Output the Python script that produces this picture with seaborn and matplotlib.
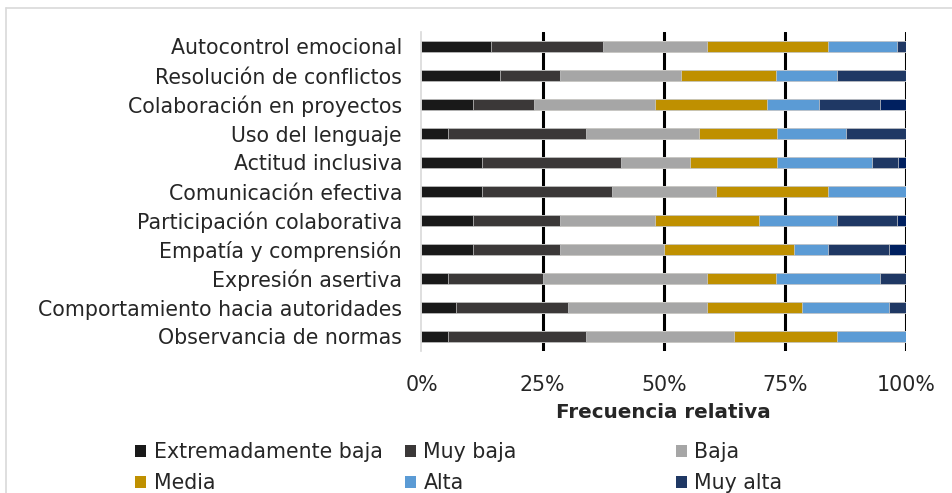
import numpy as np
import pandas as pd
import matplotlib
matplotlib.use("Agg")
import matplotlib.pyplot as plt
from matplotlib.lines import Line2D
from matplotlib.patches import Patch
import seaborn as sns

categories = [
    "Autocontrol emocional",
    "Resolución de conflictos",
    "Colaboración en proyectos",
    "Uso del lenguaje",
    "Actitud inclusiva",
    "Comunicación efectiva",
    "Participación colaborativa",
    "Empatía y comprensión",
    "Expresión asertiva",
    "Comportamiento hacia autoridades",
    "Observancia de normas",
]
levels = ["Extremadamente baja", "Muy baja", "Baja", "Media", "Alta", "Muy alta", "Extremadamente alta"]

ext_baja = [14.3, 16.1, 10.7, 5.4, 12.5, 12.5, 10.7, 10.7, 5.4, 7.1, 5.4]
muy_baja = [23.2, 12.5, 12.5, 28.6, 28.6, 26.8, 17.9, 17.9, 19.6, 23.2, 28.6]
baja = [21.4, 25.0, 25.0, 23.2, 14.3, 21.4, 19.6, 21.4, 33.9, 28.6, 30.4]
media = [25.0, 19.6, 23.2, 16.1, 17.9, 23.2, 21.4, 26.8, 14.3, 19.6, 21.4]
alta = [14.3, 12.5, 10.7, 14.3, 19.6, 16.1, 16.1, 7.1, 21.4, 17.9, 14.3]
muy_alta = [1.8, 14.3, 12.5, 12.5, 5.4, 0.0, 12.5, 12.5, 5.4, 3.6, 0.0]
ext_alta = [0.0, 0.0, 5.4, 0.0, 1.8, 0.0, 1.8, 3.6, 0.0, 0.0, 0.0]

series = [ext_baja, muy_baja, baja, media, alta, muy_alta, ext_alta]
colors = ["#191919", "#3b3838", "#a6a6a6", "#bf9000", "#5b9bd5", "#1f3864", "#002060"]

xticks = [0, 25, 50, 75, 100]
xticklabels = ["0%", "25%", "50%", "75%", "100%"]

sns.set_theme(style="white")
plt.rcParams["font.family"] = ["DejaVu Sans"]
FS = 14.8

fig = plt.figure(figsize=(9.53, 4.93), dpi=100)
ax = fig.add_axes([421.5 / 953, 1 - 351 / 493, (906 - 421.5) / 953, (351 - 32) / 493])

vals = np.array(series)
cum = np.cumsum(vals, axis=0)
df = pd.DataFrame({"cat": categories})
for i in range(len(series) - 1, -1, -1):
    df["v"] = cum[i]
    sns.barplot(data=df, y="cat", x="v", orient="h", color=colors[i], width=0.4,
                saturation=1, ax=ax, edgecolor="#d0d0d0", linewidth=0.5, zorder=2)

ax.set_xlim(0, 100)
ax.set_ylim(len(categories) - 0.5, -0.5)
for x in [25, 50, 75, 100]:
    ax.axvline(x, color="black", lw=2.2, zorder=1)
ax.set_xticks(xticks)
ax.set_xticklabels(xticklabels, fontsize=FS)
ax.tick_params(axis="x", length=0, pad=17)
ax.tick_params(axis="y", length=0, pad=14, labelsize=FS)
ax.set_ylabel("")
ax.set_xlabel("Frecuencia relativa", fontsize=14.3, fontweight="bold", labelpad=6)
for s in ["top", "right", "bottom"]:
    ax.spines[s].set_visible(False)
ax.spines["left"].set_color("#d9d9d9")
ax.spines["left"].set_linewidth(1.2)
ax.set_facecolor("white")

# Legend: three columns at fixed positions
col_x = [135 / 953, 405 / 953, 676 / 953]
for c in range(3):
    handles = []
    for r in range(2):
        idx = r * 3 + c
        handles.append(Patch(facecolor=colors[idx], edgecolor="none", label=levels[idx]))
    fig.legend(handles=handles, loc="upper left", bbox_to_anchor=(col_x[c], 1 - 442 / 493),
               frameon=False, fontsize=FS, handlelength=0.55, handleheight=0.55,
               handletextpad=0.35, labelspacing=0.55, borderpad=0, borderaxespad=0)

# outer chart border (partially visible)
fig.add_artist(Line2D([6 / 953, 1], [1 - 8 / 493, 1 - 8 / 493], transform=fig.transFigure, color="#d9d9d9", lw=1.2))
fig.add_artist(Line2D([6 / 953, 6 / 953], [0, 1 - 8 / 493], transform=fig.transFigure, color="#d9d9d9", lw=1.2))

fig.savefig("out.png", dpi=100, facecolor="white")
